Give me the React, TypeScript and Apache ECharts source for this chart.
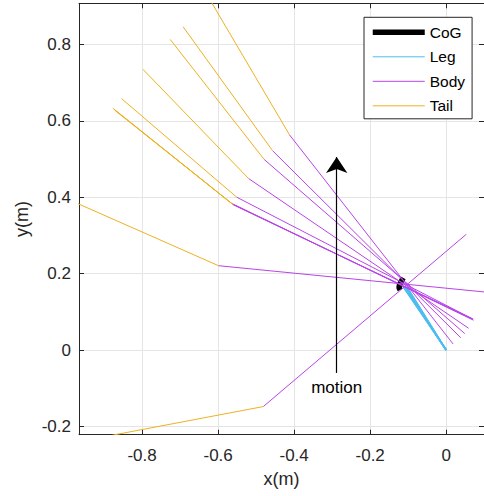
import React, { useEffect, useRef } from 'react';
import * as echarts from 'echarts';

const xTicks = [-0.8, -0.6, -0.4, -0.2, 0];
const yTicks = [-0.2, 0, 0.2, 0.4, 0.6, 0.8];
const xRange = [-0.966, 0.0995];
const yRange = [-0.2217, 0.9076];

// centre-of-gravity trajectory
const cogPath = [
  [-0.113, 0.189],
  [-0.118, 0.180],
  [-0.123, 0.170],
  [-0.124, 0.163],
  [-0.121, 0.157],
];

// per-frame tail tip, tail base (body rear) and head (body front)
const tailTips = [
  [-0.618, 0.911],
  [-0.692, 0.846],
  [-0.726, 0.813],
  [-0.798, 0.735],
  [-0.854, 0.658],
  [-0.874, 0.630],
  [-0.871, 0.627],
  [-0.877, 0.633],
  [-0.98, 0.388],
  [-0.878, -0.223],
];
const tailBases = [
  [-0.412, 0.563],
  [-0.457, 0.522],
  [-0.479, 0.499],
  [-0.520, 0.449],
  [-0.551, 0.400],
  [-0.562, 0.382],
  [-0.565, 0.384],
  [-0.560, 0.380],
  [-0.599, 0.2207],
  [-0.481, -0.148],
];
const heads = [
  [0.018, 0.016],
  [0.0385, 0.032],
  [0.049, 0.043],
  [0.059, 0.057],
  [0.068, 0.082],
  [0.0707, 0.080],
  [0.072, 0.078],
  [0.071, 0.081],
  [0.100, 0.152],
  [0.053, 0.303],
];

// leg: hip positions to the foot
const hips = [
  [-0.116, 0.169],
  [-0.114, 0.168],
  [-0.112, 0.167],
  [-0.110, 0.166],
  [-0.108, 0.165],
  [-0.106, 0.164],
  [-0.104, 0.163],
  [-0.102, 0.162],
  [-0.100, 0.161],
];
const foot = [0, 0];

const motionStart = [-0.288, -0.06];
const motionEnd = [-0.288, 0.505];
const motionLabel = [-0.288, -0.097];

const FONT = '"Liberation Sans", Arial, Helvetica, sans-serif';
const AXIS_COLOR = '#262626';
const LEG_COLOR = '#4DBEEE';
const BODY_COLOR = '#B844E8';
const TAIL_COLOR = '#EDB120';

function seg(name: string, data: number[][], color: string, width: number) {
  return {
    type: 'line',
    name,
    data,
    xAxisIndex: 0,
    yAxisIndex: 0,
    symbol: 'none',
    showSymbol: false,
    clip: true,
    silent: true,
    color,
    lineStyle: { color, width },
    itemStyle: { color },
    emphasis: { disabled: true },
  };
}

export default function App() {
  const ref = useRef<HTMLDivElement>(null);
  useEffect(() => {
    if (!ref.current) return;
    const chart = echarts.init(ref.current, undefined, { renderer: 'svg' });
    const series: any[] = [];
    series.push(seg('CoG', cogPath, '#000000', 5.5));
    hips.forEach((h) => series.push(seg('Leg', [h, foot], LEG_COLOR, 1.4)));
    tailBases.forEach((b, i) => series.push(seg('Body', [b, heads[i]], BODY_COLOR, 1)));
    tailBases.forEach((b, i) => series.push(seg('Tail', [tailTips[i], b], TAIL_COLOR, 1)));
    series.push({
      type: 'line',
      name: 'motion',
      data: [],
      symbol: 'none',
      silent: true,
      color: '#000',
      markLine: {
        silent: true,
        symbol: ['none', 'arrow'],
        symbolSize: 16,
        label: { show: false },
        itemStyle: { color: '#000' },
        lineStyle: { color: '#000', width: 1.2, type: 'solid' },
        emphasis: { disabled: true },
        data: [[{ coord: motionStart }, { coord: motionEnd }]],
      },
      markPoint: {
        silent: true,
        symbol: 'circle',
        symbolSize: 1,
        itemStyle: { color: 'rgba(0,0,0,0)' },
        label: {
          show: true,
          position: 'inside',
          formatter: 'motion',
          color: '#000',
          fontSize: 17,
          fontFamily: FONT,
        },
        data: [{ coord: motionLabel }],
      },
    });

    const tickLabel = (v: number) => String(Math.round(v * 10) / 10);

    chart.setOption({
      animation: false,
      backgroundColor: '#ffffff',
      grid: { left: 79, top: 3.3, width: 407, height: 431.4, containLabel: false },
      legend: {
        data: [
          { name: 'CoG', lineStyle: { width: 5.5, color: '#000' } },
          { name: 'Leg', lineStyle: { width: 1, color: LEG_COLOR } },
          { name: 'Body', lineStyle: { width: 1, color: BODY_COLOR } },
          { name: 'Tail', lineStyle: { width: 1, color: TAIL_COLOR } },
        ],
        orient: 'vertical',
        left: 364,
        top: 17.3,
        itemWidth: 52,
        itemHeight: 14,
        itemGap: 8.5,
        padding: [7, 7, 5, 6],
        borderColor: AXIS_COLOR,
        borderWidth: 1,
        backgroundColor: '#ffffff',
        selectedMode: false,
        itemStyle: { opacity: 0 },
        textStyle: { fontSize: 15.5, color: '#000', fontFamily: FONT },
      },
      xAxis: [
        {
          type: 'value',
          position: 'bottom',
          min: xRange[0],
          max: xRange[1],
          name: 'x(m)',
          nameLocation: 'middle',
          nameGap: 35,
          nameTextStyle: { fontSize: 18, color: AXIS_COLOR, fontFamily: FONT },
          axisLine: { show: true, onZero: false, lineStyle: { color: AXIS_COLOR, width: 1 } },
          axisTick: { show: true, inside: true, length: 5, customValues: xTicks, lineStyle: { color: AXIS_COLOR } },
          axisLabel: { show: true, customValues: xTicks, formatter: tickLabel, fontSize: 17, color: AXIS_COLOR, fontFamily: FONT, margin: 12 },
          splitLine: { show: true, lineStyle: { color: '#E5E5E5', width: 1 } },
        },
        {
          type: 'value',
          position: 'top',
          min: xRange[0],
          max: xRange[1],
          axisLine: { show: true, onZero: false, lineStyle: { color: AXIS_COLOR, width: 1 } },
          axisTick: { show: true, inside: true, length: 5, customValues: xTicks, lineStyle: { color: AXIS_COLOR } },
          axisLabel: { show: false },
          splitLine: { show: false },
        },
      ],
      yAxis: [
        {
          type: 'value',
          position: 'left',
          min: yRange[0],
          max: yRange[1],
          name: 'y(m)',
          nameLocation: 'middle',
          nameGap: 40,
          nameTextStyle: { fontSize: 18, color: AXIS_COLOR, fontFamily: FONT },
          axisLine: { show: true, onZero: false, lineStyle: { color: AXIS_COLOR, width: 1 } },
          axisTick: { show: true, inside: true, length: 5, customValues: yTicks, lineStyle: { color: AXIS_COLOR } },
          axisLabel: { show: true, customValues: yTicks, formatter: tickLabel, fontSize: 17, color: AXIS_COLOR, fontFamily: FONT, margin: 8 },
          splitLine: { show: true, lineStyle: { color: '#E5E5E5', width: 1 } },
        },
        {
          type: 'value',
          position: 'right',
          min: yRange[0],
          max: yRange[1],
          axisLine: { show: true, onZero: false, lineStyle: { color: AXIS_COLOR, width: 1 } },
          axisTick: { show: true, inside: true, length: 5, customValues: yTicks, lineStyle: { color: AXIS_COLOR } },
          axisLabel: { show: false },
          splitLine: { show: false },
        },
      ],
      series,
    });
    return () => chart.dispose();
  }, []);
  return (
    <div
      ref={ref}
      style={{ position: 'fixed', left: 0, top: 0, width: 484, height: 496 }}
    />
  );
}
